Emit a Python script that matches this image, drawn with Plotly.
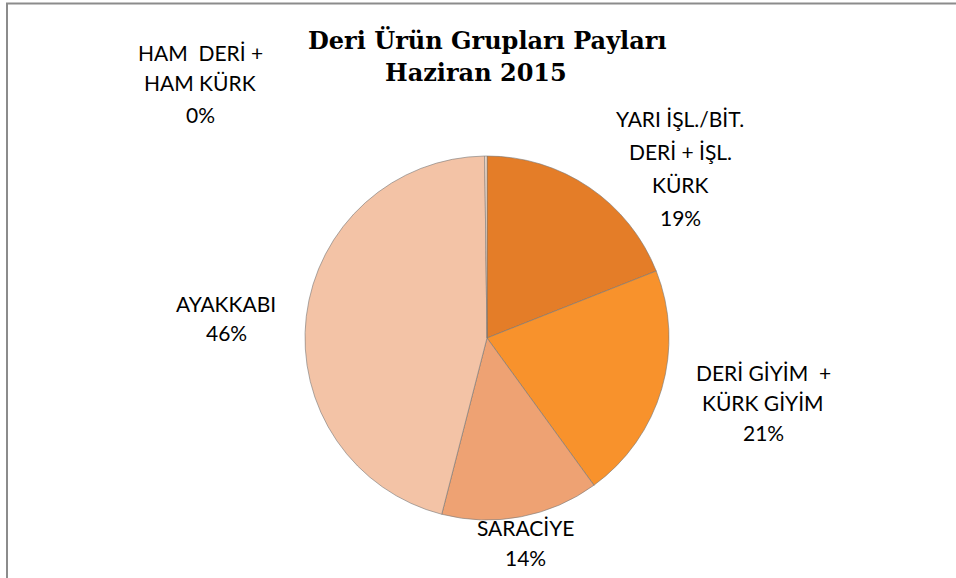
import plotly.graph_objects as go

W, H = 956, 578

labels = ["YARI İŞL./BİT.\nDERİ + İŞL.\nKÜRK", "DERİ GİYİM  +\nKÜRK GİYİM", "SARACİYE", "AYAKKABI", "HAM  DERİ +\nHAM KÜRK"]
values = [19.0, 21.0, 14.0, 45.8, 0.2]
colors = ["#E47D28", "#F8922C", "#EEA273", "#F3C3A6", "#FBE3D2"]

# label block centre x, first-line y, line gap (pixels)
label_pos = [(680, 119, 32.7), (763, 372, 30), (525, 527, 30), (226, 303, 30), (200, 52, 31)]

fig = go.Figure(go.Pie(
    labels=[l.replace("\n", " ") for l in labels],
    values=values,
    sort=False,
    direction="clockwise",
    rotation=0,
    marker=dict(colors=colors, line=dict(color="rgba(120,120,120,0.6)", width=1)),
    textinfo="none",
    hoverinfo="label+percent",
    domain=dict(x=[305 / W, 669 / W], y=[1 - 521 / H, 1 - 155 / H]),
    showlegend=False,
))

total = sum(values)
annotations = []
for lab, v, (px, py, gap) in zip(labels, values, label_pos):
    lines = lab.split("\n") + [f"{round(v / total * 100)}%"]
    for i, ln in enumerate(lines):
        annotations.append(dict(
            x=px / W, y=1 - (py + i * gap) / H, xref="paper", yref="paper",
            text=ln.replace("  ", "&nbsp; "), showarrow=False, xanchor="center", yanchor="middle",
            font=dict(family="Lato, Open Sans, sans-serif", size=21, color="#000000"),
        ))

for t, px, py in [("Deri Ürün Grupları Payları", 487, 41), ("Haziran 2015", 476, 72)]:
    annotations.append(dict(
        x=px / W, y=1 - py / H, xref="paper", yref="paper",
        text=f"<b>{t}</b>", showarrow=False, xanchor="center", yanchor="middle",
        font=dict(family="DejaVu Serif, Liberation Serif, serif", size=24, color="#000000"),
    ))

fig.update_layout(
    width=W, height=H,
    margin=dict(l=0, r=0, t=0, b=0),
    paper_bgcolor="white",
    annotations=annotations,
    shapes=[dict(type="rect", xref="paper", yref="paper",
                 x0=7 / W, x1=1.05, y0=-0.05, y1=1 - 3.5 / H,
                 line=dict(color="#8C8C8C", width=2))],
)

fig.write_html("out.html", config={"displayModeBar": False},
               post_script="document.body.style.margin='0';")
